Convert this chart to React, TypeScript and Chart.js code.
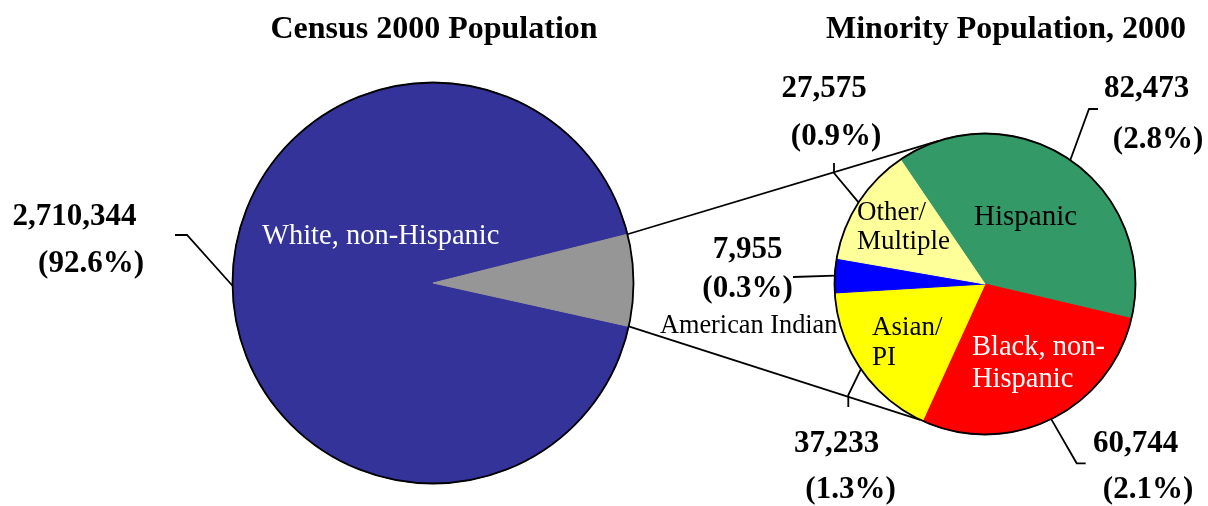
import React, { useEffect, useRef } from 'react';
import { Chart, registerables } from 'chart.js';

Chart.register(...registerables);

// ---------- DATA ----------
const MAIN_TITLE = 'Census 2000 Population';
const SUB_TITLE = 'Minority Population, 2000';

const MAIN_CATEGORIES = ['White, non-Hispanic', 'Minority'];
const WHITE_VALUE = 2710344;

const MINORITY_CATEGORIES = ['Hispanic', 'Black, non-Hispanic', 'Asian/PI', 'American Indian', 'Other/Multiple'];
const MINORITY_VALUES = [82473, 60744, 37233, 7955, 27575];

const MAIN_COLORS = ['#333399', '#969696'];
const MINORITY_COLORS = ['#339966', '#FF0000', '#FFFF00', '#0000FF', '#FFFF99'];

// ---------- LAYOUT / STYLE ----------
const FONT = '"Liberation Serif", "Times New Roman", serif';
const VALUE_FONT = `bold 31px ${FONT}`;
const TITLE_FONT = `bold 32px ${FONT}`;
const LINE_W = 1.8;

const WHITE_CAT = { lines: ['White, non-Hispanic'], x: 262, y: [244], color: '#FFFFFF', size: 28.5 };
const WHITE_VAL = { path: [[187, 235], [175, 235]], vx: 74.5, vy: 225, px: 91, py: 272 };

const MINORITY_CAT = [
  { lines: ['Hispanic'], x: 974, y: [225], color: '#000000', size: 29 },
  { lines: ['Black, non-', 'Hispanic'], x: 972, y: [355, 387], color: '#FFFFFF', size: 28.5 },
  { lines: ['Asian/', 'PI'], x: 872, y: [335, 365], color: '#000000', size: 27 },
  { lines: ['American Indian'], x: 660, y: [333], color: '#000000', size: 26.3 },
  { lines: ['Other/', 'Multiple'], x: 857, y: [220, 249], color: '#000000', size: 27 },
];
const MINORITY_VAL = [
  { path: [[1089, 109], [1098, 109]], vx: 1146.5, vy: 97, px: 1158, py: 148 },
  { path: [[1076.7, 463.3], [1085.7, 463.3]], vx: 1135.5, vy: 451.7, px: 1148, py: 498 },
  { path: [[848.3, 395], [848.3, 407]], vx: 836.5, vy: 451.7, px: 850.5, py: 498 },
  { path: [[793, 277]], vx: 747.7, vy: 257.7, px: 747.5, py: 296.7 },
  { path: [[834, 173], [834, 163]], vx: 824, vy: 97, px: 836, py: 145 },
];
// angles (deg) on secondary pie where the series lines meet it: [upper, lower]
const SERIES_LINE_ANGLES = [-108, 115.5];

const W = 1208;
const H = 506;

const fmt = (v: number) => v.toLocaleString('en-US');

function drawOutline(ctx: CanvasRenderingContext2D, arc: any) {
  ctx.save();
  ctx.beginPath();
  ctx.arc(arc.x, arc.y, arc.outerRadius, 0, Math.PI * 2);
  ctx.lineWidth = LINE_W;
  ctx.strokeStyle = '#000';
  ctx.stroke();
  ctx.restore();
}

function drawLeader(ctx: CanvasRenderingContext2D, arc: any, path: number[][]) {
  const mid = (arc.startAngle + arc.endAngle) / 2;
  const sx = arc.x + arc.outerRadius * Math.cos(mid);
  const sy = arc.y + arc.outerRadius * Math.sin(mid);
  ctx.save();
  ctx.beginPath();
  ctx.moveTo(sx, sy);
  path.forEach(([x, y]) => ctx.lineTo(x, y));
  ctx.lineWidth = LINE_W;
  ctx.strokeStyle = '#000';
  ctx.stroke();
  ctx.restore();
}

function drawValue(ctx: CanvasRenderingContext2D, value: number, total: number, l: any) {
  ctx.save();
  ctx.font = VALUE_FONT;
  ctx.fillStyle = '#000';
  ctx.textAlign = 'center';
  ctx.textBaseline = 'alphabetic';
  ctx.fillText(fmt(value), l.vx, l.vy);
  ctx.fillText(`(${((value / total) * 100).toFixed(1)}%)`, l.px, l.py);
  ctx.restore();
}

function drawCat(ctx: CanvasRenderingContext2D, c: any) {
  ctx.save();
  ctx.font = `${c.size}px ${FONT}`;
  ctx.fillStyle = c.color;
  ctx.textAlign = 'left';
  ctx.textBaseline = 'alphabetic';
  c.lines.forEach((t: string, i: number) => ctx.fillText(t, c.x, c.y[i]));
  ctx.restore();
}

function drawTitle(ctx: CanvasRenderingContext2D, text: string, x: number) {
  ctx.save();
  ctx.font = TITLE_FONT;
  ctx.fillStyle = '#000';
  ctx.textAlign = 'center';
  ctx.textBaseline = 'alphabetic';
  ctx.fillText(text, x, 38);
  ctx.restore();
}

export default function App() {
  const ref1 = useRef<HTMLCanvasElement>(null);
  const ref2 = useRef<HTMLCanvasElement>(null);

  useEffect(() => {
    const minorityTotal = MINORITY_VALUES.reduce((a, b) => a + b, 0);
    const mainValues = [WHITE_VALUE, minorityTotal];
    const grandTotal = WHITE_VALUE + minorityTotal;

    const mainPlugin = {
      id: 'mainDecor',
      afterDatasetsDraw(chart: any) {
        const ctx = chart.ctx;
        const arcs = chart.getDatasetMeta(0).data;
        drawOutline(ctx, arcs[0]);
        drawTitle(ctx, MAIN_TITLE, arcs[0].x + 1);
        drawCat(ctx, WHITE_CAT);
        drawLeader(ctx, arcs[0], WHITE_VAL.path);
        drawValue(ctx, WHITE_VALUE, grandTotal, WHITE_VAL);
      },
    };

    const ch1 = new Chart(ref1.current!, {
      type: 'pie',
      data: {
        labels: MAIN_CATEGORIES,
        datasets: [{
          data: mainValues,
          backgroundColor: MAIN_COLORS,
          borderColor: MAIN_COLORS,
          borderWidth: 1,
          hoverOffset: 0,
          offset: 0,
        }],
      },
      options: {
        responsive: false,
        animation: false,
        rotation: 102.5,
        events: [],
        layout: { padding: { left: 232, right: W - 634, top: 82, bottom: H - 484 } },
        plugins: { legend: { display: false }, title: { display: false }, tooltip: { enabled: false } },
      },
      plugins: [mainPlugin],
    } as any);

    const subPlugin = {
      id: 'subDecor',
      beforeDatasetsDraw(chart: any) {
        const ctx = chart.ctx;
        const c = chart.getDatasetMeta(0).data[0] as any;
        const g = ch1.getDatasetMeta(0).data[1] as any;
        // upper series line starts at the gray slice's start edge, lower one at its end edge
        const from = [g.startAngle, g.endAngle];
        ctx.save();
        ctx.lineWidth = LINE_W;
        ctx.strokeStyle = '#000';
        SERIES_LINE_ANGLES.forEach((deg, i) => {
          const a = (deg * Math.PI) / 180;
          ctx.beginPath();
          ctx.moveTo(g.x + g.outerRadius * Math.cos(from[i]), g.y + g.outerRadius * Math.sin(from[i]));
          ctx.lineTo(c.x + c.outerRadius * Math.cos(a), c.y + c.outerRadius * Math.sin(a));
          ctx.stroke();
        });
        ctx.restore();
      },
      afterDatasetsDraw(chart: any) {
        const ctx = chart.ctx;
        const arcs = chart.getDatasetMeta(0).data;
        drawOutline(ctx, arcs[0]);
        drawTitle(ctx, SUB_TITLE, 1006);
        MINORITY_CAT.forEach((c) => drawCat(ctx, c));
        arcs.forEach((arc: any, i: number) => {
          drawLeader(ctx, arc, MINORITY_VAL[i].path);
          drawValue(ctx, MINORITY_VALUES[i], grandTotal, MINORITY_VAL[i]);
        });
      },
    };

    const ch2 = new Chart(ref2.current!, {
      type: 'pie',
      data: {
        labels: MINORITY_CATEGORIES,
        datasets: [{
          data: MINORITY_VALUES,
          backgroundColor: MINORITY_COLORS,
          borderColor: MINORITY_COLORS,
          borderWidth: 1,
          hoverOffset: 0,
          offset: 0,
        }],
      },
      options: {
        responsive: false,
        animation: false,
        rotation: -34.2,
        events: [],
        layout: { padding: { left: 834, right: W - 1136, top: 133, bottom: H - 435 } },
        plugins: { legend: { display: false }, title: { display: false }, tooltip: { enabled: false } },
      },
      plugins: [subPlugin],
    } as any);

    return () => {
      ch2.destroy();
      ch1.destroy();
    };
  }, []);

  return (
    <div style={{ position: 'fixed', left: 0, top: 0, width: W, height: H, background: '#FFFFFF' }}>
      <canvas ref={ref1} width={W} height={H} style={{ position: 'absolute', left: 0, top: 0 }} />
      <canvas ref={ref2} width={W} height={H} style={{ position: 'absolute', left: 0, top: 0 }} />
    </div>
  );
}
